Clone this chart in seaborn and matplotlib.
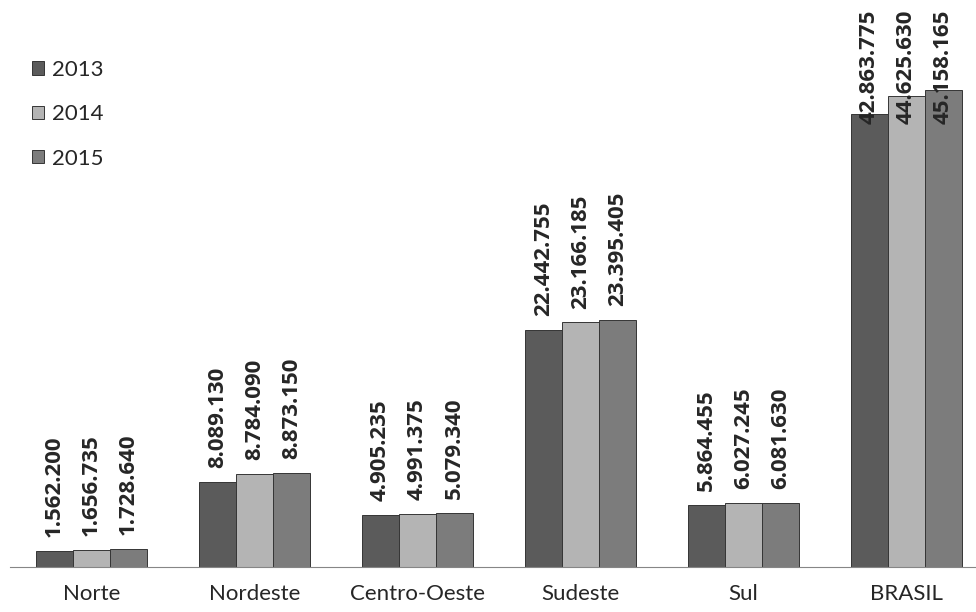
import pandas as pd
import seaborn as sns
import matplotlib.pyplot as plt

regioes = ["Norte", "Nordeste", "Centro-Oeste", "Sudeste", "Sul", "BRASIL"]
anos = ["2013", "2014", "2015"]
v2013 = [1562200, 8089130, 4905235, 22442755, 5864455, 42863775]
v2014 = [1656735, 8784090, 4991375, 23166185, 6027245, 44625630]
v2015 = [1728640, 8873150, 5079340, 23395405, 6081630, 45158165]
cores = ["#5b5b5b", "#b4b4b4", "#7c7c7c"]

df = pd.DataFrame({
    "regiao": regioes * 3,
    "ano": [a for a in anos for _ in regioes],
    "valor": v2013 + v2014 + v2015,
})

sns.set_style("white")
plt.rcParams["font.family"] = ["Lato", "DejaVu Sans"]
bold = dict(family=["Open Sans", "DejaVu Sans"], fontweight="bold", fontsize=16)

fig = plt.figure(figsize=(9.76, 6.12), dpi=100)
ax = fig.add_axes([10 / 976, 45 / 612, 978 / 976, 567 / 612])

sns.barplot(data=df, x="regiao", y="valor", hue="ano", palette=cores,
            width=0.68, edgecolor="#353535", linewidth=0.7, ax=ax)

ax.set_ylim(0, 53.7e6)
ax.set_xlim(-0.5, 5.5)


def fmt(v):
    return f"{int(v):,}".replace(",", ".")


# rotulos em cima das barras; no BRASIL ficam presos ao topo do grafico
for cont in ax.containers:
    bars = list(cont)
    labels = [fmt(b.get_height()) for b in bars[:-1]] + [""]
    ax.bar_label(cont, labels=labels, rotation=90, padding=10, **bold)
    last = bars[-1]
    ax.text(last.get_x() + last.get_width() / 2, 1 - 10 / 567,
            fmt(last.get_height()), transform=ax.get_xaxis_transform(),
            rotation=90, ha="center", va="top", **bold)

ax.set_xlabel("")
ax.set_ylabel("")
ax.set_yticks([])
for s in ["top", "right", "left"]:
    ax.spines[s].set_visible(False)
ax.spines["bottom"].set_color("#868686")
ax.tick_params(axis="x", length=0, labelsize=16, pad=12)
ax.set_xticks([i + 0.5 for i in range(-1, 6)], minor=True)
ax.tick_params(axis="x", which="minor", length=9, color="#868686", width=1)

leg = ax.legend(loc="upper left", bbox_to_anchor=(0.002, 0.93), frameon=False,
                fontsize=16, handlelength=0.55, handleheight=0.55,
                labelspacing=1.1, handletextpad=0.35)

# titulo cortado no topo, como no original
fig.text(665 / 976, 1 + 5 / 612, "Matrículas por Região (2013, 2015)",
         ha="right", va="baseline", fontsize=15)

fig.savefig("out.png", dpi=100)
